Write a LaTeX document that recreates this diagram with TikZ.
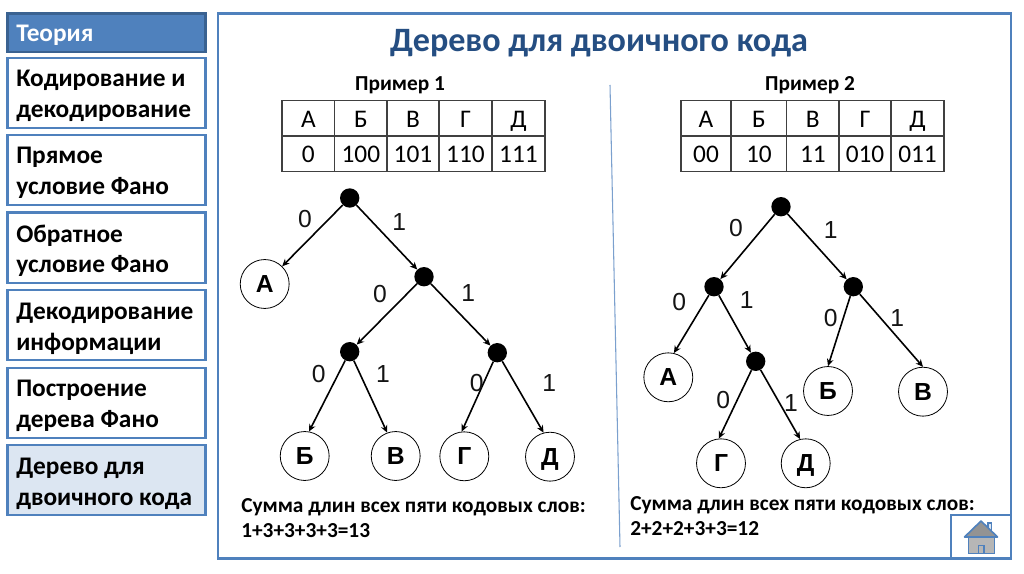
\documentclass[tikz,border=0pt]{standalone}
\usepackage{fontspec}
\setmainfont{Carlito}
\newfontfamily\treefont{Liberation Sans}
\usetikzlibrary{arrows.meta}
\definecolor{blueline}{HTML}{4F81BD}
\definecolor{bluedark}{HTML}{3A6291}
\definecolor{titleblue}{HTML}{254E82}
\definecolor{lightfill}{HTML}{DCE6F2}
\tikzset{x=0.75pt,y=-0.75pt,
 menu/.style={draw=blueline,line width=1.6pt,fill=white,minimum width=148.5pt,minimum height=52.8pt,anchor=north west,inner sep=0pt,outer sep=0pt},
 menutext/.style={font=\fontsize{19}{23}\selectfont\bfseries,text=black,anchor=base west,inner sep=0pt},
 cellfont/.style={font=\fontsize{19}{20}\selectfont,inner sep=0pt,anchor=base},
 leaf/.style={circle,draw=black,line width=0.6pt,fill=white,minimum size=36.7pt,inner sep=0pt,text height=13pt,text depth=0pt,font=\treefont\fontsize{18.5}{20}\selectfont\bfseries},
 dot/.style={circle,fill=black,minimum size=14.5pt,inner sep=0pt},
 edge/.style={draw=black,line width=1.2pt,-{Stealth[length=5.5pt,width=5pt]}},
 bit/.style={font=\treefont\fontsize{18.5}{20}\selectfont,inner sep=0pt,text=black!92},
 caption/.style={font=\fontsize{16}{18}\selectfont\bfseries,anchor=base west,inner sep=0pt},
 head/.style={font=\fontsize{16}{18}\selectfont\bfseries,inner sep=0pt,anchor=base}}
\begin{document}
\begin{tikzpicture}
\useasboundingbox (0,0) rectangle (1024,574);
\fill[white] (0,0) rectangle (1024,574);
% main frame
\draw[blueline,line width=1.7pt] (218,13.5) rectangle (1011,558.5);
% home box
\draw[blueline,line width=1.7pt] (951,515) rectangle (1011,558.5);
% house
\fill[blueline] (987,522) rectangle (992,531);
\fill[white!80!blueline] (988.5,524) rectangle (990.5,531);
\draw[fill=lightgray!95!black,draw=blueline,line width=0.9pt] (968.5,537) rectangle (994.5,553.5);
\draw[fill=lightgray!95!black,draw=blueline,line width=1.4pt] (978.5,545.5) rectangle (984,553.5);
\fill[gray!85,draw=blueline,line width=1.2pt,line join=round] (964.5,537) -- (981,521) -- (997.5,537) -- cycle;
% menu
\node[menu,draw=bluedark,fill=blueline,minimum height=29pt] (m0) at (7.5,13.5) {};
\node[menutext,text=white] (t0) at (16,42) {Теория};
\foreach \n/\y/\f/\a/\b/\ya/\yb in {1/58/white/Кодирование и/декодирование/87/118,2/135/white/Прямое/условие Фано/164/194.5,3/212.5/white/Обратное/условие Фано/242/272,4/290/white/Декодирование/информации/319/350,5/368/white/Построение/дерева Фано/396/427,6/445/lightfill/Дерево для/двоичного кода/474/505}{
  \node[menu,fill=\f] (m\n) at (7.5,\y) {};
  \node[menutext] (a\n) at (16,\ya) {\a};
  \node[menutext] (b\n) at (16,\yb) {\b};
}
% title
\node[font=\fontsize{25.6}{28}\selectfont\bfseries,text=titleblue,inner sep=0pt,anchor=base] (title) at (599,52) {Дерево для двоичного кода};
\node[head] (h1) at (400,91) {Пример 1};
\node[head] (h2) at (810,91) {Пример 2};
% divider
\draw[blueline!75,line width=0.8pt] (610,85) -- (620,547);
% table 1
\foreach \i/\xa/\xb/\u/\v in {1/282/334.7/А/0,2/334.7/387/Б/100,3/387/439/В/101,4/439/492/Г/110,5/492/545/Д/111}{
  \draw[black!75,line width=1pt] (\xa,100.7) rectangle (\xb,136) (\xa,136) rectangle (\xb,171.7);
  \node[cellfont] (p\i) at ({(\xa+\xb)/2},127.5) {\u};
  \node[cellfont] (q\i) at ({(\xa+\xb)/2},163) {\v};
}
% table 2
\foreach \i/\xa/\xb/\u/\v in {1/681/731/А/00,2/731/786.7/Б/10,3/786.7/839/В/11,4/839/891/Г/010,5/891/944/Д/011}{
  \draw[black!75,line width=1pt] (\xa,100.7) rectangle (\xb,136) (\xa,136) rectangle (\xb,171.7);
  \node[cellfont] (r\i) at ({(\xa+\xb)/2},127.5) {\u};
  \node[cellfont] (s\i) at ({(\xa+\xb)/2},163) {\v};
}
% tree 1
\node[dot] (n0) at (349.7,198) {};
\node[dot] (n1) at (424,276.7) {};
\node[dot] (n2) at (349.7,351.7) {};
\node[dot] (n3) at (497.3,352.7) {};
\node[leaf] (la) at (264.7,284) {А};
\node[leaf] (lb) at (304.7,456) {Б};
\node[leaf] (lv) at (395.7,456) {В};
\node[leaf] (lg) at (464.3,456.3) {Г};
\node[leaf] (ld) at (550,456.7) {Д};
\draw[edge] (n0) -- (la);
\draw[edge] (n0) -- (n1);
\draw[edge] (n1) -- (n2);
\draw[edge] (n1) -- (n3);
\draw[edge] (n2) -- (lb.80);
\draw[edge] (n2) -- (lv.110);
\draw[edge] (n3) -- (lg.96);
\draw[edge] (n3) -- (ld.105);
\node[bit] (e1) at (305,219.3) {0};
\node[bit] (e2) at (399.3,221.7) {1};
\node[bit] (e3) at (380,294) {0};
\node[bit] (e4) at (468.3,292.7) {1};
\node[bit] (e5) at (318.7,374.3) {0};
\node[bit] (e6) at (383,374) {1};
\node[bit] (e7) at (476.7,383.3) {0};
\node[bit] (e8) at (549.3,383.3) {1};
% tree 2
\node[dot] (k0) at (781,206.7) {};
\node[dot] (k1) at (714,286.7) {};
\node[dot] (k2) at (853.3,286.7) {};
\node[dot] (k3) at (755.7,361.3) {};
\node[leaf] (ra) at (668.3,377.3) {А};
\node[leaf] (rb) at (828,391) {Б};
\node[leaf] (rv) at (923,391.7) {В};
\node[leaf] (rg) at (721,463.3) {Г};
\node[leaf] (rd) at (805.7,463.3) {Д};
\draw[edge] (k0) -- (k1);
\draw[edge] (k0) -- (k2);
\draw[edge] (k1) -- (ra.77);
\draw[edge] (k1) -- (k3);
\draw[edge] (k2) -- (rb.north);
\draw[edge] (k2) -- (rv.north);
\draw[edge] (k3) -- (rg.95);
\draw[edge] (k3) -- (rd.103);
\node[bit] (f1) at (736,227.7) {0};
\node[bit] (f2) at (830.7,230) {1};
\node[bit] (f3) at (679.3,301.7) {0};
\node[bit] (f4) at (746.7,300) {1};
\node[bit] (f5) at (830.7,318.3) {0};
\node[bit] (f6) at (897.3,317.7) {1};
\node[bit] (f7) at (723.3,400) {0};
\node[bit] (f8) at (791,402.7) {1};
% captions
\node[caption] (c1) at (241,512) {Сумма длин всех пяти кодовых слов:};
\node[caption] (c2) at (241,537) {1+3+3+3+3=13};
\node[caption] (c3) at (630,510) {Сумма длин всех пяти кодовых слов:};
\node[caption] (c4) at (630,535) {2+2+2+3+3=12};
\end{tikzpicture}
\end{document}
